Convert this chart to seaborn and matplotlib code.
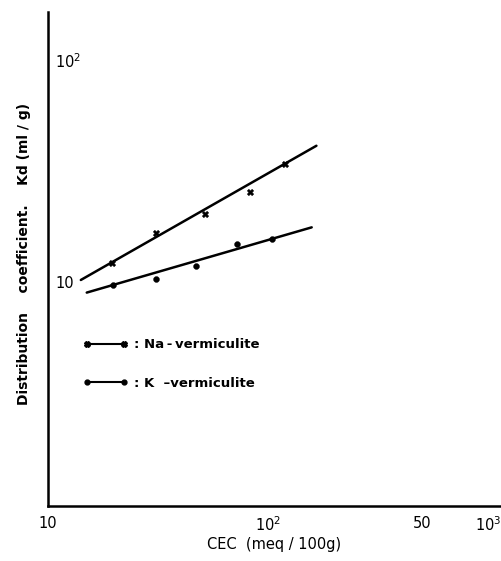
import numpy as np
import pandas as pd
import matplotlib
matplotlib.use("Agg")
import matplotlib.pyplot as plt
from matplotlib.lines import Line2D
import seaborn as sns

# --- data ---
na_cec = [19.5, 31.0, 51.7, 82.8, 119.5]
na_kd = [12.2, 16.6, 20.2, 25.5, 33.9]
k_cec = [19.7, 31.0, 47.1, 72.3, 104.2]
k_kd = [9.7, 10.3, 11.8, 14.8, 15.6]

na_fit_cec = [14.1, 166.0]
na_fit_kd = [10.2, 41.0]
k_fit_cec = [15.0, 158.0]
k_fit_kd = [8.95, 17.6]

x_ticks = [10, 100, 500, 1000]
x_ticklabels = ["10", "10$^{2}$", "50", "10$^{3}$"]
y_ticks = [10, 100]
y_ticklabels = ["10", "10$^{2}$"]

series_names = [": Na\u2009-\u2009vermiculite", ": K  \u2013vermiculite"]

sns.set_style("white")
plt.rcParams["font.family"] = ["DejaVu Sans"]
plt.rcParams["text.color"] = "black"
plt.rcParams["axes.labelcolor"] = "black"
plt.rcParams["xtick.color"] = "black"
plt.rcParams["ytick.color"] = "black"

fig = plt.figure(figsize=(5.01, 5.61), dpi=100)
ax = fig.add_axes([48 / 501, 1 - 506 / 561, (501 - 48) / 501, (506 - 12) / 561])

ax.set_xscale("log")
ax.set_yscale("log")

pts = pd.concat([
    pd.DataFrame({"cec": na_cec, "kd": na_kd, "s": "Na"}),
    pd.DataFrame({"cec": k_cec, "kd": k_kd, "s": "K"}),
])
fits = pd.concat([
    pd.DataFrame({"cec": na_fit_cec, "kd": na_fit_kd, "s": "Na"}),
    pd.DataFrame({"cec": k_fit_cec, "kd": k_fit_kd, "s": "K"}),
])

sns.lineplot(data=fits, x="cec", y="kd", hue="s", palette={"Na": "black", "K": "black"},
             linewidth=1.8, legend=False, ax=ax, estimator=None, sort=False)
sns.scatterplot(data=pts[pts.s == "Na"], x="cec", y="kd", marker="X", s=22,
                color="black", edgecolor="black", linewidth=0.3, legend=False, ax=ax)
sns.scatterplot(data=pts[pts.s == "K"], x="cec", y="kd", marker="o", s=18,
                color="black", edgecolor="black", linewidth=0.3, legend=False, ax=ax)

ax.set_xlim(10, 1146)
ax.set_ylim(0.98, 164)

ax.xaxis.set_minor_locator(matplotlib.ticker.NullLocator())
ax.yaxis.set_minor_locator(matplotlib.ticker.NullLocator())
ax.set_xticks(x_ticks)
ax.set_xticklabels(x_ticklabels, fontsize=10.5)
ax.set_yticks(y_ticks)
ax.set_yticklabels(y_ticklabels, fontsize=10.5)
ax.tick_params(axis="x", direction="in", length=4, width=1, pad=7, colors="black")
ax.tick_params(axis="y", direction="in", length=4, width=1, pad=-5, colors="black")
for lbl in ax.get_yticklabels():
    lbl.set_horizontalalignment("left")

for side in ["top", "right"]:
    ax.spines[side].set_visible(False)
for side in ["left", "bottom"]:
    ax.spines[side].set_linewidth(1.8)
    ax.spines[side].set_color("black")

ax.set_xlabel("CEC  (meq / 100g)", fontsize=10.5, labelpad=2, color="black")
ax.set_ylabel("Distribution    coefficient.    Kd (ml / g)", fontsize=10,
              fontweight="bold", labelpad=14, color="black")
ax.yaxis.set_label_coords(-0.037, 0.51)

handles = [
    Line2D([0, 1], [0, 0], color="black", lw=1.5, marker="X", markersize=4),
    Line2D([0, 1], [0, 0], color="black", lw=1.5, marker="o", markersize=3.5),
]
leg = ax.legend(handles, series_names, loc="center left",
                bbox_to_anchor=((83 - 48) / 453, (506 - 364) / 494),
                frameon=False, fontsize=9.5, handlelength=3.4, handletextpad=0.5,
                labelspacing=1.9, borderpad=0, borderaxespad=0, numpoints=2)
for t in leg.get_texts():
    t.set_fontweight("bold")
    t.set_color("black")

fig.savefig("out.png", dpi=100, facecolor="white")
